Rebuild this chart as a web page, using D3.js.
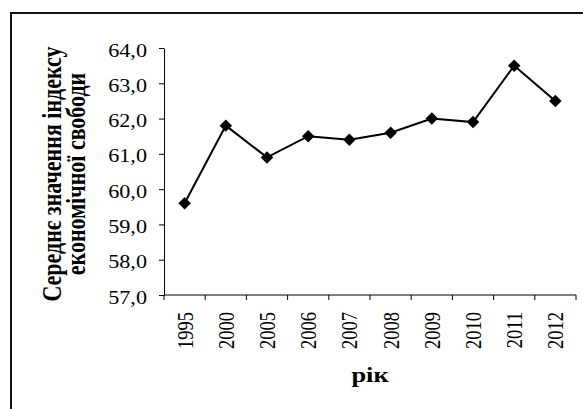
<!DOCTYPE html>
<html>
<head>
<meta charset="utf-8">
<script src="https://cdn.jsdelivr.net/npm/d3@7"></script>
<style>
	html, body { margin: 0; padding: 0; background: #fff; }
	text { font-family: "Liberation Serif", "Times New Roman", serif; fill: #000; }
</style>
</head>
<body>
<div id="vis"></div>
<script>
var years  = ["1995", "2000", "2005", "2006", "2007", "2008", "2009", "2010", "2011", "2012"];
var values = [59.6, 61.8, 60.9, 61.5, 61.4, 61.6, 62.0, 61.9, 63.5, 62.5];
var yTicks = [57, 58, 59, 60, 61, 62, 63, 64];
var yTitle = ["Середнє значення індексу", "економічної свободи"];
var xTitle = "рік";

var width = 583;
var height = 409;
var margin = { top: 48, left: 164, bottom: 114, right: 7 };
var SX = 1.2;   // the picture is a bit wider than tall, so text is stretched

var svg = d3.select('#vis').append('svg')
	.attr('width', width)
	.attr('height', height);

// chart frame (runs off the right and bottom)
svg.append('rect')
	.attr('x', 11).attr('y', 13)
	.attr('width', 600).attr('height', 500)
	.attr('fill', 'none')
	.attr('stroke', '#111')
	.attr('stroke-width', 2);

var x = d3.scaleBand()
	.domain(years)
	.range([margin.left, width - margin.right]);

var y = d3.scaleLinear()
	.domain([57, 64])
	.range([height - margin.bottom, margin.top]);

// y axis
var yAxis = svg.append('g')
	.attr('class', 'y axis')
	.attr('transform', 'translate(' + margin.left + ',0)')
	.call(d3.axisLeft(y)
		.tickValues(yTicks)
		.tickSize(5)
		.tickSizeOuter(0)
		.tickFormat(function (d) { return d.toFixed(1).replace('.', ','); }));

yAxis.select('.domain').attr('stroke', '#000');
yAxis.selectAll('line').attr('stroke', '#000');
yAxis.selectAll('text')
	.attr('x', null)
	.attr('dy', null)
	.attr('fill', '#000')
	.style('font-family', '"Liberation Serif", serif')
	.style('font-size', '18.5px')
	.attr('text-anchor', 'end')
	.attr('transform', 'translate(-17,8) scale(' + SX + ',1)');

// x axis, Excel style: ticks between categories
var x0 = y(57);
var xAxis = svg.append('g').attr('class', 'x axis');

xAxis.append('line')
	.attr('x1', x.range()[0]).attr('x2', x.range()[1])
	.attr('y1', x0).attr('y2', x0)
	.attr('stroke', '#000');

xAxis.selectAll('.tick')
	.data(years.map(function (d) { return x(d); }).concat([x.range()[1]]))
	.enter().append('line')
	.attr('class', 'tick')
	.attr('x1', function (d) { return d; })
	.attr('x2', function (d) { return d; })
	.attr('y1', x0).attr('y2', x0 + 5)
	.attr('stroke', '#000');

xAxis.selectAll('.label')
	.data(years)
	.enter().append('text')
	.attr('class', 'label')
	.attr('text-anchor', 'end')
	.style('font-size', '18.5px')
	.attr('transform', function (d) {
		return 'translate(' + (x(d) + x.bandwidth() / 2 + 8) + ',' + (x0 + 17) + ') scale(' + SX + ',1) rotate(-90)';
	})
	.text(function (d) { return d; });

// titles
svg.append('text')
	.attr('text-anchor', 'middle')
	.style('font-size', '22px')
	.style('font-weight', 'bold')
	.attr('transform', 'translate(370,382) scale(' + SX + ',1)')
	.text(xTitle);

svg.selectAll('.ytitle')
	.data(yTitle)
	.enter().append('text')
	.attr('class', 'ytitle')
	.attr('text-anchor', 'middle')
	.style('font-size', '22px')
	.style('font-weight', 'bold')
	.attr('transform', function (d, i) {
		return 'translate(' + (61 + i * 24) + ',' + 174 + ') scale(' + SX + ',1) rotate(-90)';
	})
	.text(function (d) { return d; });

// the series
var points = years.map(function (d, i) { return { year: d, value: values[i] }; });

var line = d3.line()
	.x(function (d) { return x(d.year) + x.bandwidth() / 2; })
	.y(function (d) { return y(d.value); });

svg.append('path')
	.datum(points)
	.attr('d', line)
	.attr('fill', 'none')
	.attr('stroke', '#000')
	.attr('stroke-width', 2);

svg.selectAll('.marker')
	.data(points)
	.enter().append('path')
	.attr('class', 'marker')
	.attr('d', d3.symbol().type(d3.symbolSquare).size(78))
	.attr('fill', '#000')
	.attr('transform', function (d) {
		return 'translate(' + (x(d.year) + x.bandwidth() / 2) + ',' + y(d.value) + ') rotate(45)';
	});
</script>
</body>
</html>
